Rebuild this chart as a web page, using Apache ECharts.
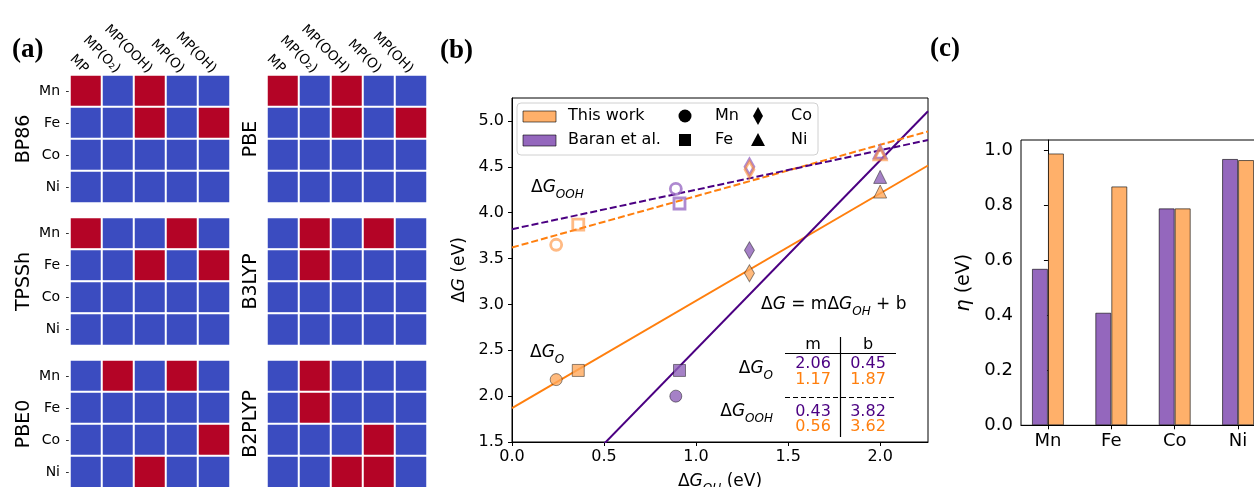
<!DOCTYPE html>
<html>
<head>
<meta charset="utf-8">
<script src="https://cdn.jsdelivr.net/npm/echarts@6/dist/echarts.min.js"></script>
<style>
html, body { margin: 0; padding: 0; background: #fff; }
#main { width: 1254px; height: 487px; }
</style>
</head>
<body>
<div id="main"></div>
<script>
var FONT = 'DejaVu Sans';

// (a) spin state maps, rows = metals, cols = sites (1 = red)
var sites = ['MP', 'MP(O₂)', 'MP(OOH)', 'MP(O)', 'MP(OH)'];
var metals = ['Mn', 'Fe', 'Co', 'Ni'];
var methods = ['BP86', 'PBE', 'TPSSh', 'B3LYP', 'PBE0', 'B2PLYP'];
var bp86 = [[1, 0, 1, 0, 0], [0, 0, 1, 0, 1], [0, 0, 0, 0, 0], [0, 0, 0, 0, 0]];
var pbe = [[1, 0, 1, 0, 0], [0, 0, 1, 0, 1], [0, 0, 0, 0, 0], [0, 0, 0, 0, 0]];
var tpssh = [[1, 0, 0, 1, 0], [0, 0, 1, 0, 1], [0, 0, 0, 0, 0], [0, 0, 0, 0, 0]];
var b3lyp = [[0, 1, 0, 1, 0], [0, 1, 0, 0, 0], [0, 0, 0, 0, 0], [0, 0, 0, 0, 0]];
var pbe0 = [[0, 1, 0, 1, 0], [0, 0, 0, 0, 0], [0, 0, 0, 0, 1], [0, 0, 1, 0, 0]];
var b2plyp = [[0, 1, 0, 0, 0], [0, 1, 0, 0, 0], [0, 0, 0, 1, 0], [0, 0, 1, 1, 0]];
var maps = [bp86, pbe, tpssh, b3lyp, pbe0, b2plyp];

// (b) scaling relations
var ohThis = [0.24, 0.36, 1.29, 2.0];
var ohBaran = [0.89, 0.91, 1.29, 2.0];
var oThis = [2.18, 2.28, 3.34, 4.23];
var oBaran = [2.0, 2.28, 3.59, 4.39];
var oohThis = [3.65, 3.87, 4.47, 4.64];
var oohBaran = [4.26, 4.10, 4.50, 4.66];
// fits: dG = m*dG_OH + b
var fitOBaran = [2.06, 0.45];
var fitOThis = [1.17, 1.87];
var fitOOHBaran = [0.43, 3.82];
var fitOOHThis = [0.56, 3.62];
var bTicksX = [0, 0.5, 1.0, 1.5, 2.0];
var bTicksY = [1.5, 2.0, 2.5, 3.0, 3.5, 4.0, 4.5, 5.0];

// (c) overpotentials
var etaBaran = [0.57, 0.41, 0.79, 0.97];
var etaThis = [0.99, 0.87, 0.79, 0.966];
var cTicksY = [0, 0.2, 0.4, 0.6, 0.8, 1.0];

var PURPLE = '#4b0082';
var ORANGE = '#ff7f0e';
var BAR_PURPLE = '#9467bd';
var BAR_ORANGE = '#ffb06a';
var X_MAX = 2.26;

var chart = echarts.init(document.getElementById('main'));

function mathRich(size) {
  var s = Math.round(size * 0.7);
  return {
    n: { fontFamily: FONT, fontSize: size, color: '#000', lineHeight: size * 1.5 },
    i: { fontFamily: FONT, fontSize: size, fontStyle: 'italic', color: '#000', lineHeight: size * 1.5 },
    s: { fontFamily: FONT, fontSize: s, fontStyle: 'italic', color: '#000', verticalAlign: 'bottom', lineHeight: s }
  };
}
function dG(sub) {
  return '{n|Δ}{i|G}' + (sub ? '{s|' + sub + '}' : '');
}

var grids = [], xAxes = [], yAxes = [], series = [];

// heatmaps
var colLeft = [70, 267];
var rowTop = [75, 217.5, 360];
maps.forEach(function (m, k) {
  var col = k % 2, row = Math.floor(k / 2);
  grids.push({ left: colLeft[col], top: rowTop[row], width: 160, height: 128, outerBoundsMode: 'none' });
  xAxes.push({
    gridIndex: k, type: 'category', data: sites, position: 'top', show: row === 0,
    axisLine: { show: false },
    axisTick: { alignWithLabel: true, length: 4, lineStyle: { color: '#333' } },
    axisLabel: { rotate: 45, align: 'right', verticalAlign: 'middle', margin: 4, interval: 0, fontFamily: FONT, fontSize: 13.5, color: '#000' },
    splitLine: { show: false }
  });
  yAxes.push({
    gridIndex: k, type: 'category', data: metals, inverse: true,
    axisLine: { show: false },
    axisTick: { show: col === 0, alignWithLabel: true, length: 4, lineStyle: { color: '#333' } },
    axisLabel: { show: col === 0, margin: 10, fontFamily: FONT, fontSize: 14, color: '#000' },
    name: methods[k], nameLocation: 'middle', nameRotate: 90, nameGap: col === 0 ? 36 : 6,
    nameTextStyle: { fontFamily: FONT, fontSize: 19, color: '#000' },
    splitLine: { show: false }
  });
  var data = [];
  m.forEach(function (r, ri) {
    r.forEach(function (v, ci) { data.push([ci, ri, v]); });
  });
  series.push({
    type: 'heatmap', xAxisIndex: k, yAxisIndex: k, data: data, silent: true,
    itemStyle: { borderColor: '#fff', borderWidth: 2 },
    emphasis: { disabled: true }
  });
});

// (b)
grids.push({ left: 512, top: 98, width: 416, height: 344, show: true, borderColor: '#000', borderWidth: 1, outerBoundsMode: 'none' });
xAxes.push({
  gridIndex: 6, type: 'value', min: 0, max: X_MAX,
  axisLine: { lineStyle: { color: '#000' } },
  axisTick: { customValues: bTicksX, length: 4, lineStyle: { color: '#000' } },
  axisLabel: { customValues: bTicksX, formatter: function (v) { return v.toFixed(1); }, fontFamily: FONT, fontSize: 16, color: '#000', margin: 7 },
  splitLine: { show: false },
  name: dG('OH') + '{n| (eV)}', nameLocation: 'middle', nameGap: 27,
  nameTextStyle: { rich: mathRich(17) }
});
yAxes.push({
  gridIndex: 6, type: 'value', min: 1.5, max: 5.25,
  axisLine: { show: true, lineStyle: { color: '#000' } },
  axisTick: { show: true, customValues: bTicksY, length: 4, lineStyle: { color: '#000' } },
  axisLabel: { customValues: bTicksY, formatter: function (v) { return v.toFixed(1); }, fontFamily: FONT, fontSize: 16, color: '#000', margin: 8 },
  splitLine: { show: false },
  name: dG('') + '{n| (eV)}', nameLocation: 'middle', nameRotate: 90, nameGap: 40,
  nameTextStyle: { rich: mathRich(17) }
});

function fitLine(fit, color, dashed) {
  return {
    type: 'line', xAxisIndex: 6, yAxisIndex: 6, silent: true, showSymbol: false, clip: true,
    data: [[0, fit[1]], [X_MAX, fit[0] * X_MAX + fit[1]]],
    lineStyle: { color: color, width: 2, type: dashed ? [7, 3] : 'solid' }
  };
}
series.push(fitLine(fitOThis, ORANGE, false));
series.push(fitLine(fitOBaran, PURPLE, false));
series.push(fitLine(fitOOHThis, ORANGE, true));
series.push(fitLine(fitOOHBaran, PURPLE, true));

var syms = ['circle', 'rect', 'diamond', 'triangle'];
var symSizes = [12, 12, [10, 17], 13];
var hollowSizes = [11, 11, [9, 16], 12];
function pts(xs, ys, sizes) {
  return xs.map(function (x, i) {
    return { value: [x, ys[i]], symbol: syms[i], symbolSize: sizes[i] };
  });
}
series.push({
  type: 'scatter', xAxisIndex: 6, yAxisIndex: 6, silent: true, z: 5,
  data: pts(ohBaran, oohBaran, hollowSizes),
  itemStyle: { color: 'rgba(0,0,0,0)', borderColor: '#9a6cc4', borderWidth: 2.8 }
});
series.push({
  type: 'scatter', xAxisIndex: 6, yAxisIndex: 6, silent: true, z: 5,
  data: pts(ohThis, oohThis, hollowSizes),
  itemStyle: { color: 'rgba(0,0,0,0)', borderColor: 'rgba(255,140,50,0.75)', borderWidth: 2.8 }
});
series.push({
  type: 'scatter', xAxisIndex: 6, yAxisIndex: 6, silent: true, z: 5,
  data: pts(ohBaran, oBaran, symSizes),
  itemStyle: { color: '#8f62b8', borderColor: 'rgba(0,0,0,0.55)', borderWidth: 1 }
});
series.push({
  type: 'scatter', xAxisIndex: 6, yAxisIndex: 6, silent: true, z: 5,
  data: pts(ohThis, oThis, symSizes),
  itemStyle: { color: '#ffa95c', borderColor: 'rgba(0,0,0,0.55)', borderWidth: 1 }
});

// (c)
grids.push({ left: 1021, top: 140, width: 244, height: 285.3, show: true, borderColor: '#000', borderWidth: 1, outerBoundsMode: 'none' });
xAxes.push({
  gridIndex: 7, type: 'value', min: -0.425, max: 3.425,
  axisLine: { lineStyle: { color: '#000' } },
  axisTick: { customValues: [0, 1, 2, 3], length: 4, lineStyle: { color: '#000' } },
  axisLabel: { customValues: [0, 1, 2, 3], formatter: function (v) { return metals[v]; }, fontFamily: FONT, fontSize: 18, color: '#000', margin: 7 },
  splitLine: { show: false }
});
yAxes.push({
  gridIndex: 7, type: 'value', min: 0, max: 1.039,
  axisLine: { show: true, lineStyle: { color: '#000' } },
  axisTick: { show: true, customValues: cTicksY, length: 4, lineStyle: { color: '#000' } },
  axisLabel: { customValues: cTicksY, formatter: function (v) { return v.toFixed(1); }, fontFamily: FONT, fontSize: 18, color: '#000', margin: 8 },
  splitLine: { show: false },
  name: '{i|η}{n| (eV)}', nameLocation: 'middle', nameRotate: 90, nameGap: 43,
  nameTextStyle: { rich: mathRich(19) }
});
series.push({
  type: 'bar', xAxisIndex: 7, yAxisIndex: 7, silent: true, barWidth: 16, barGap: '0%',
  data: etaBaran.map(function (v, i) { return [i, v]; }),
  itemStyle: { color: BAR_PURPLE, borderColor: 'rgba(0,0,0,0.6)', borderWidth: 1 }
});
series.push({
  type: 'bar', xAxisIndex: 7, yAxisIndex: 7, silent: true, barWidth: 16, barGap: '0%',
  data: etaThis.map(function (v, i) { return [i, v]; }),
  itemStyle: { color: BAR_ORANGE, borderColor: 'rgba(0,0,0,0.6)', borderWidth: 1 }
});

// annotations
function txt(x, y, text, o) {
  o = o || {};
  return {
    type: 'text', x: x, y: y, z: 50, silent: true,
    style: {
      text: text, fontFamily: o.font || FONT, fontSize: o.size || 16, fontWeight: o.weight || 'normal',
      fill: o.color || '#000', align: o.align || 'left', verticalAlign: 'middle', rich: o.rich
    }
  };
}
var graphics = [
  txt(12, 50, '(a)', { font: 'Liberation Serif', size: 27, weight: 'bold' }),
  txt(440, 51, '(b)', { font: 'Liberation Serif', size: 27, weight: 'bold' }),
  txt(930, 49, '(c)', { font: 'Liberation Serif', size: 27, weight: 'bold' }),
  // legend
  { type: 'rect', z: 40, silent: true, shape: { x: 517, y: 103, width: 301, height: 52, r: 4 },
    style: { fill: 'rgba(255,255,255,0.85)', stroke: '#d0d0d0', lineWidth: 1 } },
  { type: 'rect', z: 41, silent: true, shape: { x: 523, y: 111, width: 33, height: 11 },
    style: { fill: BAR_ORANGE, stroke: 'rgba(0,0,0,0.6)', lineWidth: 1 } },
  { type: 'rect', z: 41, silent: true, shape: { x: 523, y: 135, width: 33, height: 11 },
    style: { fill: BAR_PURPLE, stroke: 'rgba(0,0,0,0.6)', lineWidth: 1 } },
  txt(568, 116, 'This work', { size: 16 }),
  txt(568, 140, 'Baran et al.', { size: 16 }),
  { type: 'circle', z: 41, silent: true, shape: { cx: 685, cy: 116, r: 6.5 }, style: { fill: '#000' } },
  { type: 'rect', z: 41, silent: true, shape: { x: 679, y: 134, width: 12, height: 12 }, style: { fill: '#000' } },
  { type: 'polygon', z: 41, silent: true, shape: { points: [[758, 107], [763, 116], [758, 125], [753, 116]] }, style: { fill: '#000' } },
  { type: 'polygon', z: 41, silent: true, shape: { points: [[758, 133], [765, 146], [751, 146]] }, style: { fill: '#000' } },
  txt(715, 116, 'Mn', { size: 16 }),
  txt(715, 140, 'Fe', { size: 16 }),
  txt(791, 116, 'Co', { size: 16 }),
  txt(791, 140, 'Ni', { size: 16 }),
  // text labels in (b)
  txt(531, 188, dG('OOH'), { rich: mathRich(17) }),
  txt(530, 353, dG('O'), { rich: mathRich(17) }),
  txt(761, 305, dG('') + '{n| = mΔ}{i|G}{s|OH}{n| + b}', { rich: mathRich(17) }),
  txt(813, 345, 'm', { size: 16, align: 'center' }),
  txt(868, 345, 'b', { size: 16, align: 'center' }),
  txt(813, 364, fitOBaran[0].toFixed(2), { size: 16, align: 'center', color: PURPLE }),
  txt(868, 364, fitOBaran[1].toFixed(2), { size: 16, align: 'center', color: PURPLE }),
  txt(813, 380, fitOThis[0].toFixed(2), { size: 16, align: 'center', color: ORANGE }),
  txt(868, 380, fitOThis[1].toFixed(2), { size: 16, align: 'center', color: ORANGE }),
  txt(813, 412, fitOOHBaran[0].toFixed(2), { size: 16, align: 'center', color: PURPLE }),
  txt(868, 412, fitOOHBaran[1].toFixed(2), { size: 16, align: 'center', color: PURPLE }),
  txt(813, 427, fitOOHThis[0].toFixed(2), { size: 16, align: 'center', color: ORANGE }),
  txt(868, 427, fitOOHThis[1].toFixed(2), { size: 16, align: 'center', color: ORANGE }),
  txt(773, 369, dG('O'), { rich: mathRich(17), align: 'right' }),
  txt(773, 412, dG('OOH'), { rich: mathRich(17), align: 'right' }),
  { type: 'line', z: 41, silent: true, shape: { x1: 785, y1: 353.5, x2: 896, y2: 353.5 }, style: { stroke: '#000', lineWidth: 1.2 } },
  { type: 'line', z: 41, silent: true, shape: { x1: 785, y1: 397.5, x2: 896, y2: 397.5 }, style: { stroke: '#000', lineWidth: 1.2, lineDash: [5, 3] } },
  { type: 'line', z: 41, silent: true, shape: { x1: 840.5, y1: 337, x2: 840.5, y2: 437 }, style: { stroke: '#000', lineWidth: 1.2 } }
];

chart.setOption({
  animation: false,
  textStyle: { fontFamily: FONT },
  visualMap: {
    show: false, type: 'continuous', min: 0, max: 1, seriesIndex: [0, 1, 2, 3, 4, 5],
    inRange: { color: ['#3b4cc0', '#b40426'] }
  },
  grid: grids,
  xAxis: xAxes,
  yAxis: yAxes,
  series: series,
  graphic: graphics
});
</script>
</body>
</html>
